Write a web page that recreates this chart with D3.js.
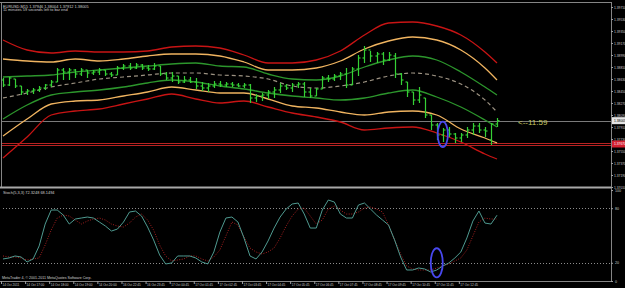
<!DOCTYPE html>
<html><head><meta charset="utf-8">
<script src="https://cdn.jsdelivr.net/npm/d3@7/dist/d3.min.js"></script>
<style>
html,body{margin:0;padding:0;background:#000;overflow:hidden}
svg{display:block}
text{font-family:"Liberation Sans",Arial,sans-serif}
</style></head><body>
<svg id="c" width="625" height="288"></svg>
<script>
// ---------- DATA ----------
const titleLine1 = "EURUSD,M15  1.37946 1.38004 1.37912 1.38005";
const titleLine2 = "11 minutes 59 seconds left to bar end";
const stochTitle = "Stoch(5,3,3) 72.3248 68.1494";
const copyright = "MetaTrader 4, \u00A9 2001-2011 MetaQuotes Software Corp.";
const countdown = "<--11:59";

const timeLabels = ["14 Oct 2011","14 Oct 17:00","14 Oct 18:00","14 Oct 19:00","14 Oct 20:00","16 Oct 22:45","16 Oct 23:45","17 Oct 00:45","17 Oct 01:45","17 Oct 02:45","17 Oct 03:45","17 Oct 04:45","17 Oct 05:45","17 Oct 06:45","17 Oct 07:45","17 Oct 08:45","17 Oct 09:45","17 Oct 10:45","17 Oct 11:45","17 Oct 12:45"];
const timeLabelBars = [0,4,8,12,16,20,24,28,32,36,40,44,48,52,56,60,64,68,72,76];

const priceTicks = [1.39710,1.39530,1.39350,1.39170,1.38990,1.38810,1.38630,1.38450,1.38270,1.38090,1.37910,1.37730,1.37550,1.37370,1.37190,1.37010];
const currentPrice = 1.38005;
const levelLines = [1.37670, 1.37640];
const stochTicks = [100, 80, 20, 0];
const stochLevels = [80, 20];

const barHigh = [1.38645,1.38660,1.38630,1.38525,1.38480,1.38495,1.38525,1.38555,1.38615,1.38795,1.38795,1.38795,1.38780,1.38795,1.38765,1.38765,1.38795,1.38765,1.38735,1.38825,1.38855,1.38870,1.38870,1.38855,1.38840,1.38870,1.38825,1.38735,1.38735,1.38675,1.38675,1.38660,1.38645,1.38585,1.38570,1.38600,1.38600,1.38585,1.38585,1.38570,1.38570,1.38555,1.38405,1.38420,1.38465,1.38510,1.38570,1.38555,1.38570,1.38585,1.38585,1.38495,1.38495,1.38675,1.38690,1.38705,1.38735,1.38795,1.38810,1.38990,1.39125,1.39050,1.39035,1.39035,1.39035,1.39020,1.38720,1.38585,1.38435,1.38510,1.38345,1.38090,1.37970,1.37895,1.37910,1.37820,1.37820,1.37910,1.37970,1.37970,1.37910,1.37970,1.38045];
const barLow = [1.38510,1.38525,1.38495,1.38390,1.38390,1.38405,1.38435,1.38465,1.38510,1.38585,1.38615,1.38615,1.38645,1.38675,1.38645,1.38690,1.38690,1.38675,1.38660,1.38690,1.38765,1.38765,1.38780,1.38765,1.38750,1.38765,1.38675,1.38615,1.38585,1.38555,1.38570,1.38570,1.38480,1.38450,1.38435,1.38495,1.38510,1.38510,1.38510,1.38510,1.38495,1.38270,1.38285,1.38300,1.38330,1.38345,1.38420,1.38465,1.38435,1.38495,1.38360,1.38345,1.38375,1.38480,1.38585,1.38600,1.38615,1.38495,1.38540,1.38675,1.38870,1.38885,1.38870,1.38840,1.38900,1.38645,1.38540,1.38360,1.38240,1.38270,1.38045,1.37865,1.37715,1.37685,1.37760,1.37670,1.37685,1.37745,1.37790,1.37820,1.37760,1.37640,1.37910];
const barOpen = [1.38615,1.38540,1.38630,1.38525,1.38435,1.38450,1.38465,1.38495,1.38540,1.38585,1.38765,1.38735,1.38765,1.38705,1.38765,1.38720,1.38735,1.38765,1.38705,1.38690,1.38795,1.38825,1.38795,1.38840,1.38795,1.38780,1.38825,1.38705,1.38645,1.38675,1.38585,1.38615,1.38585,1.38525,1.38495,1.38525,1.38555,1.38540,1.38555,1.38540,1.38525,1.38540,1.38345,1.38375,1.38390,1.38435,1.38465,1.38525,1.38495,1.38540,1.38555,1.38435,1.38375,1.38480,1.38645,1.38630,1.38675,1.38705,1.38540,1.38780,1.38945,1.39065,1.38975,1.39005,1.38915,1.38975,1.38705,1.38585,1.38435,1.38315,1.38345,1.38090,1.37940,1.37790,1.37865,1.37805,1.37745,1.37790,1.37865,1.37925,1.37865,1.37715,1.37955];
const barClose = [1.38540,1.38645,1.38525,1.38435,1.38450,1.38465,1.38495,1.38540,1.38585,1.38765,1.38735,1.38765,1.38705,1.38765,1.38720,1.38735,1.38765,1.38705,1.38690,1.38795,1.38825,1.38795,1.38840,1.38795,1.38780,1.38825,1.38705,1.38645,1.38675,1.38585,1.38615,1.38585,1.38525,1.38495,1.38525,1.38555,1.38540,1.38555,1.38540,1.38525,1.38540,1.38345,1.38375,1.38390,1.38435,1.38465,1.38525,1.38495,1.38540,1.38555,1.38435,1.38375,1.38480,1.38645,1.38630,1.38675,1.38705,1.38540,1.38780,1.38945,1.39065,1.38975,1.39005,1.38915,1.38990,1.38705,1.38615,1.38435,1.38315,1.38390,1.38090,1.37940,1.37790,1.37865,1.37805,1.37745,1.37790,1.37865,1.37925,1.37865,1.37850,1.37955,1.38005];

// envelope bands, sampled at these bar indices
const bandBars = [0,4,8,12,16,20,24,28,32,36,40,44,48,52,56,60,64,68,72,76,80,82];
const redUpper = [1.39215,1.39065,1.39020,1.39050,1.39035,1.39035,1.39050,1.39110,1.39125,1.39095,1.38990,1.38870,1.38870,1.38915,1.39050,1.39290,1.39470,1.39485,1.39425,1.39290,1.39035,1.38870];
const orangeUpper = [1.38930,1.38900,1.38885,1.38930,1.38900,1.38930,1.38975,1.39005,1.39005,1.38975,1.38885,1.38765,1.38765,1.38795,1.38900,1.39080,1.39200,1.39260,1.39215,1.39065,1.38795,1.38615];
const greenUpper = [1.38660,1.38675,1.38690,1.38735,1.38765,1.38795,1.38825,1.38855,1.38870,1.38825,1.38810,1.38705,1.38630,1.38615,1.38675,1.38810,1.38915,1.38975,1.38915,1.38735,1.38510,1.38390];
const middle = [1.38345,1.38420,1.38510,1.38570,1.38630,1.38660,1.38690,1.38720,1.38720,1.38690,1.38675,1.38630,1.38525,1.38495,1.38525,1.38585,1.38675,1.38720,1.38675,1.38555,1.38315,1.38135];
const greenLower = [1.38030,1.38240,1.38390,1.38435,1.38465,1.38510,1.38570,1.38615,1.38585,1.38525,1.38480,1.38420,1.38375,1.38345,1.38315,1.38345,1.38420,1.38465,1.38360,1.38210,1.38015,1.37910];
const orangeLower = [1.37775,1.38030,1.38255,1.38300,1.38315,1.38375,1.38435,1.38510,1.38465,1.38420,1.38420,1.38330,1.38225,1.38195,1.38135,1.38090,1.38135,1.38150,1.38090,1.37880,1.37745,1.37670];
const redLower = [1.37445,1.37760,1.38090,1.38150,1.38180,1.38255,1.38330,1.38405,1.38330,1.38270,1.38300,1.38210,1.38120,1.38060,1.37985,1.37865,1.37895,1.37910,1.37820,1.37685,1.37505,1.37430];

const stochMain = [24.2,25.3,27.5,26.4,20.9,24.2,38.5,62.6,78.0,78.0,72.5,62.6,68.1,69.2,70.3,69.2,64.8,60.4,54.9,57.1,64.8,75.8,76.9,71.4,59.3,45.1,28.6,18.7,19.8,27.5,27.5,27.5,25.3,20.9,18.7,31.9,53.8,69.2,70.3,64.8,47.3,27.5,24.2,31.9,44.0,58.2,70.3,79.1,84.6,85.7,73.6,58.2,58.2,78.0,89.0,86.8,73.6,69.2,69.2,83.5,85.7,79.1,72.5,67.0,61.5,45.1,26.4,12.1,12.1,14.3,13.2,9.9,12.1,16.5,19.8,25.3,31.9,47.3,65.9,76.9,63.7,62.6,72.3];
const stochSignal = [27.5,26.4,26.4,25.3,23.1,24.2,25.3,39.6,56.0,69.2,72.5,71.4,67.0,62.6,65.9,68.1,69.2,67.0,62.6,60.4,59.3,63.7,70.3,73.6,67.0,56.0,39.6,27.5,22.0,23.1,24.2,27.5,27.5,24.2,22.0,26.4,34.1,49.5,64.8,61.5,48.4,36.3,31.9,29.7,31.9,36.3,47.3,60.4,71.4,79.1,80.2,71.4,62.6,67.0,79.1,82.4,78.0,73.6,73.6,75.8,80.2,81.3,79.1,75.8,61.5,45.1,29.7,16.5,13.2,12.1,12.1,12.1,14.3,16.5,18.7,22.0,25.3,34.1,49.5,64.8,69.2,68.1,68.1];

// annotations (drawn by hand on the screenshot)
const markMain = {bar: 73, price: 1.37800, bars: 0.85, priceHalf: 0.0019};
const markStoch = {bar: 72, value: 20, bars: 1.0, valueHalf: 16};

// ---------- LAYOUT ----------
const svg = d3.select("#c");
const AX = 611;
const x = d3.scaleLinear().domain([0, 82]).range([3, 497]);
const y = d3.scaleLinear().domain([1.37010, 1.39710]).range([187, 7]);
const ys = d3.scaleLinear().domain([0, 100]).range([281, 190]);

svg.append("rect").attr("width",625).attr("height",288).attr("fill","#000");

const defs = svg.append("defs");
defs.append("clipPath").attr("id","cm").append("rect").attr("x",1).attr("y",3).attr("width",AX-1).attr("height",183);
defs.append("clipPath").attr("id","cs").append("rect").attr("x",1).attr("y",189).attr("width",AX-1).attr("height",92);

const main = svg.append("g").attr("clip-path","url(#cm)");
const sub = svg.append("g").attr("clip-path","url(#cs)");

// horizontal level lines
main.selectAll("line.lvl").data(levelLines).enter().append("line")
  .attr("x1",0).attr("x2",AX).attr("y1",d=>Math.round(y(d))+0.5).attr("y2",d=>Math.round(y(d))+0.5)
  .attr("stroke","#b82222").attr("stroke-width",1);
main.append("line").attr("x1",0).attr("x2",AX)
  .attr("y1",Math.round(y(currentPrice))+0.5).attr("y2",Math.round(y(currentPrice))+0.5)
  .attr("stroke","#7a7a7a").attr("stroke-width",1);

// bands
const bandLine = arr => d3.line().x((d,i)=>x(bandBars[i])).y(d=>y(d)).curve(d3.curveMonotoneX)(arr);
const bands = [
  {d: redUpper, c:"#c81414"}, {d: redLower, c:"#c81414"},
  {d: orangeUpper, c:"#f0b460"}, {d: orangeLower, c:"#f0b460"},
  {d: greenUpper, c:"#2c962c"}, {d: greenLower, c:"#2c962c"},
];
bands.forEach(b => main.append("path").attr("d", bandLine(b.d)).attr("fill","none")
  .attr("stroke", b.c).attr("stroke-width",1.3));
main.append("path").attr("d", bandLine(middle)).attr("fill","none")
  .attr("stroke","#9c9282").attr("stroke-width",1.2).attr("stroke-dasharray","4,3");

// OHLC bars
const bars = main.append("g").attr("stroke","#35d035").attr("stroke-width",1.2);
barHigh.forEach((h,i)=>{
  const cx = Math.round(x(i))+0.5;
  bars.append("line").attr("x1",cx).attr("x2",cx).attr("y1",y(h)).attr("y2",y(barLow[i]));
  bars.append("line").attr("x1",cx-2).attr("x2",cx).attr("y1",y(barOpen[i])).attr("y2",y(barOpen[i]));
  bars.append("line").attr("x1",cx).attr("x2",cx+2).attr("y1",y(barClose[i])).attr("y2",y(barClose[i]));
});

// blue marker ellipse (main)
main.append("ellipse").attr("cx",x(markMain.bar)).attr("cy",y(markMain.price))
  .attr("rx",x(markMain.bars)-x(0)).attr("ry",y(markMain.price-markMain.priceHalf)-y(markMain.price))
  .attr("fill","none").attr("stroke","#4848ee").attr("stroke-width",1.8);

// countdown text
svg.append("text").attr("x",518).attr("y",125).attr("fill","#c8c860")
  .attr("font-size",8).attr("font-family","DejaVu Sans").text(countdown);

// titles
svg.append("text").attr("x",3).attr("y",7.5).attr("fill","#d0d0d0").attr("font-size",3.9).text(titleLine1);
svg.append("text").attr("x",3).attr("y",11).attr("fill","#d0d0d0").attr("font-size",3.9).text(titleLine2);

// ---------- STOCHASTIC ----------
sub.selectAll("line.sl").data(stochLevels).enter().append("line")
  .attr("x1",0).attr("x2",AX).attr("y1",d=>Math.round(ys(d))+0.5).attr("y2",d=>Math.round(ys(d))+0.5)
  .attr("stroke","#8c8c8c").attr("stroke-width",1).attr("stroke-dasharray","1,2");
const sline = d3.line().x((d,i)=>x(i)).y(d=>ys(d));
sub.append("path").attr("d",sline(stochSignal)).attr("fill","none")
  .attr("stroke","#a82020").attr("stroke-width",1).attr("stroke-dasharray","1,1.5");
sub.append("path").attr("d",sline(stochMain)).attr("fill","none")
  .attr("stroke","#4f9a90").attr("stroke-width",1);
sub.append("ellipse").attr("cx",x(markStoch.bar)).attr("cy",ys(markStoch.value))
  .attr("rx",x(markStoch.bars)-x(0)).attr("ry",ys(markStoch.value-markStoch.valueHalf)-ys(markStoch.value))
  .attr("fill","none").attr("stroke","#4848ee").attr("stroke-width",1.8);

svg.append("text").attr("x",3).attr("y",193.5).attr("fill","#d0d0d0").attr("font-size",3.9).text(stochTitle);
svg.append("text").attr("x",2).attr("y",279).attr("fill","#d0d0d0").attr("font-size",3.6).text(copyright);

// ---------- FRAME ----------
const frame = svg.append("g").attr("stroke","#858585").attr("fill","none");
frame.append("line").attr("x1",0).attr("x2",AX+1).attr("y1",2.5).attr("y2",2.5);
frame.append("line").attr("x1",1.5).attr("x2",1.5).attr("y1",2).attr("y2",187);
frame.append("line").attr("x1",0).attr("x2",AX+1).attr("y1",187.5).attr("y2",187.5).attr("stroke","#a8a8a8").attr("stroke-width",2);
frame.append("line").attr("x1",0).attr("x2",AX+1).attr("y1",281.5).attr("y2",281.5);
frame.append("line").attr("x1",AX+0.5).attr("x2",AX+0.5).attr("y1",2).attr("y2",282);

// price axis
const pAxis = svg.append("g").attr("transform",`translate(${AX},0)`)
  .call(d3.axisRight(y).tickValues(priceTicks).tickFormat(d3.format(".5f")).tickSize(2).tickPadding(1));
pAxis.select(".domain").remove();
pAxis.selectAll("line").attr("stroke","#a0a0a0");
pAxis.selectAll("text").attr("fill","#c8c8c8").attr("font-size",3.3).attr("font-family","Liberation Sans");

// price labels on axis
const cp = svg.append("g");
cp.append("rect").attr("x",AX+1).attr("y",y(currentPrice)-3.5).attr("width",13).attr("height",7).attr("fill","#e4e4e4");
cp.append("text").attr("x",AX+3).attr("y",y(currentPrice)+1.2).attr("font-size",3.3).attr("fill","#000").text(d3.format(".5f")(currentPrice));
cp.append("rect").attr("x",AX+1).attr("y",y(levelLines[0])-2.5).attr("width",13).attr("height",7).attr("fill","#d42030");
cp.append("text").attr("x",AX+3).attr("y",y(levelLines[0])+2.2).attr("font-size",3.3).attr("fill","#fff").text(d3.format(".5f")(levelLines[0]));

// stochastic axis
const sAxis = svg.append("g").attr("transform",`translate(${AX},0)`)
  .call(d3.axisRight(ys).tickValues(stochTicks).tickFormat(d3.format("d")).tickSize(2).tickPadding(2));
sAxis.select(".domain").remove();
sAxis.selectAll("line").attr("stroke","#a0a0a0");
sAxis.selectAll("text").attr("fill","#c8c8c8").attr("font-size",3.6).attr("font-family","Liberation Sans");

// time axis
const tAxis = svg.append("g").attr("transform","translate(-2,281)")
  .call(d3.axisBottom(x).tickValues(timeLabelBars).tickFormat((d,i)=>timeLabels[i]).tickSize(3).tickPadding(1));
tAxis.select(".domain").remove();
tAxis.selectAll("line").attr("stroke","#a0a0a0");
tAxis.selectAll("text").attr("fill","#c8c8c8").attr("font-size",3.1).attr("text-anchor","start")
  .attr("dx",1).attr("dy","0.2em").attr("font-family","Liberation Sans");
</script>
</body></html>
